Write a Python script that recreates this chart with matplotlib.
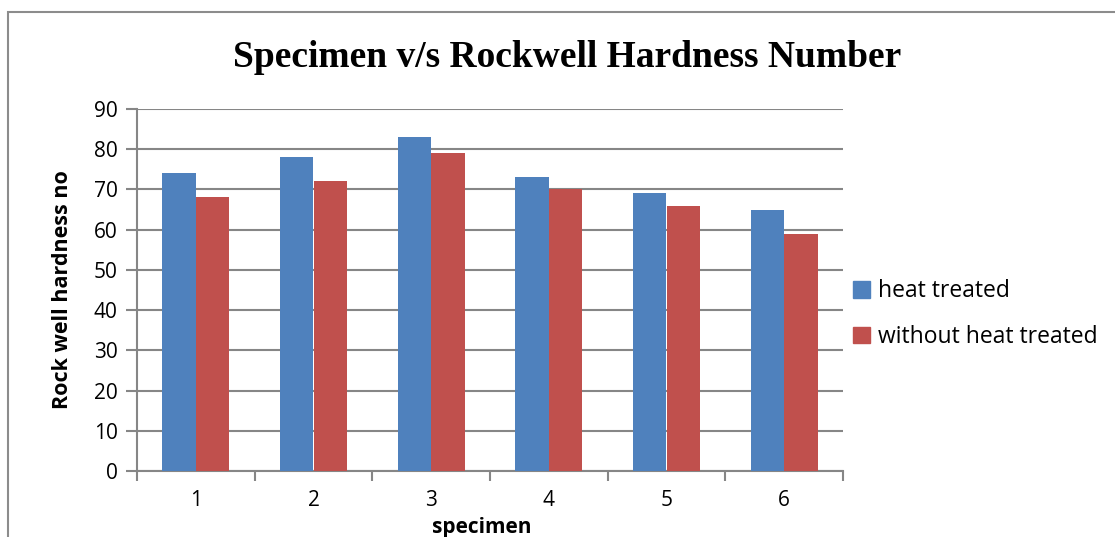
import matplotlib
matplotlib.use("Agg")
import matplotlib.pyplot as plt
import numpy as np
from matplotlib.patches import Rectangle, Patch

categories = ["1", "2", "3", "4", "5", "6"]
heat_treated = [74, 78, 83, 73, 69, 65]
without_heat_treated = [68, 72, 79, 70, 66, 59]
series_names = ["heat treated", "without heat treated"]
yticks = [0, 10, 20, 30, 40, 50, 60, 70, 80, 90]

W, H = 1115, 537
fig = plt.figure(figsize=(W / 100, H / 100), dpi=100)
fig.patch.set_facecolor("white")

# outer chart frame (left and top edges visible)
fig.add_artist(Rectangle((8 / W, -0.1), 1.2, (1 - 12 / H) + 0.1,
                         transform=fig.transFigure, fill=False,
                         edgecolor="#8c8c8c", linewidth=1.5))

ax = fig.add_axes([137 / W, 1 - 471 / H, (843 - 137) / W, (471 - 109) / H])

gray = "#868686"
x = np.arange(len(categories))
bw = 1 / 3.5
ax.bar(x - bw / 2, heat_treated, width=bw, color="#4F81BD", label=series_names[0], zorder=3)
ax.bar(x + bw / 2, without_heat_treated, width=bw, color="#C0504D", label=series_names[1], zorder=3)

ax.set_xlim(-0.5, len(categories) - 0.5)
ax.set_ylim(0, 90)
ax.set_yticks(yticks)
ax.yaxis.grid(True, color=gray, linewidth=1.5, zorder=0)
ax.set_axisbelow(True)

ax.set_xticks(x)
ax.set_xticklabels(categories)
ax.set_xticks(np.arange(-0.5, len(categories)), minor=True)
ax.tick_params(axis="x", which="major", length=0, pad=14, labelsize=15)
ax.tick_params(axis="x", which="minor", length=7, width=1.5, color=gray, direction="out")
ax.tick_params(axis="y", length=8, width=1.5, color=gray, direction="out", pad=6, labelsize=15)

for lab in ax.get_xticklabels() + ax.get_yticklabels():
    lab.set_fontfamily("Open Sans")

for s in ["top", "right"]:
    ax.spines[s].set_visible(False)
for s in ["left", "bottom"]:
    ax.spines[s].set_color(gray)
    ax.spines[s].set_linewidth(1.5)

fig.text(567 / W, 1 - 57 / H, "Specimen v/s Rockwell Hardness Number",
         ha="center", va="center", fontsize=27, fontweight="bold",
         fontfamily="Liberation Serif")
fig.text(62 / W, 1 - 290 / H, "Rock well hardness no", rotation=90,
         ha="center", va="center", fontsize=15.5, fontweight="bold",
         fontfamily="Open Sans")
fig.text(482 / W, 1 - 527 / H, "specimen", ha="center", va="center",
         fontsize=15, fontweight="bold", fontfamily="Open Sans")

handles = [Patch(color="#4F81BD"), Patch(color="#C0504D")]
leg = fig.legend(handles, series_names, loc="center left",
                 bbox_to_anchor=(853 / W, 1 - 314 / H), frameon=False,
                 prop={"family": "Open Sans", "size": 16.5},
                 handlelength=0.75, handleheight=0.75, handletextpad=0.35,
                 labelspacing=0.95, borderaxespad=0, borderpad=0)

fig.savefig("out.png", dpi=100)
